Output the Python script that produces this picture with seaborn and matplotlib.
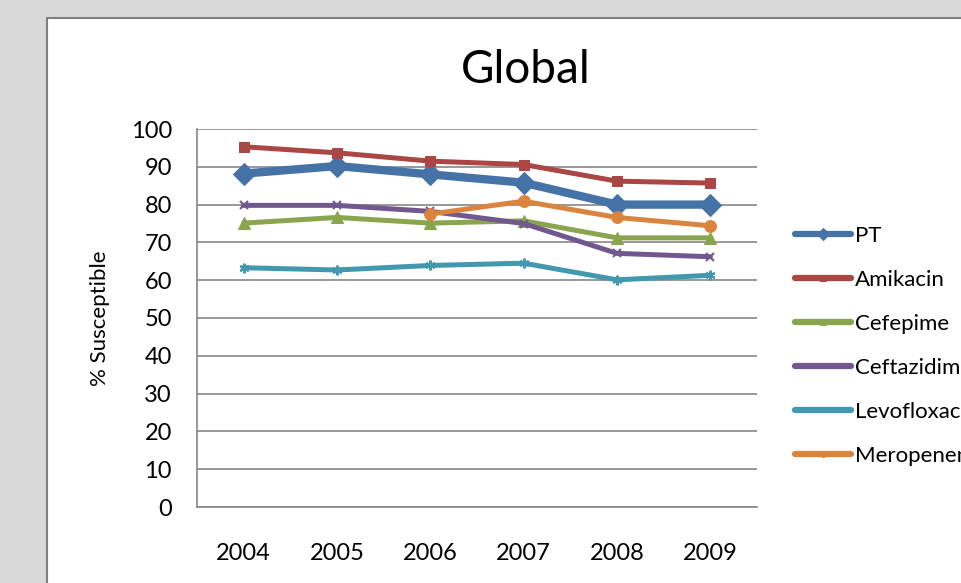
import numpy as np
import pandas as pd
import matplotlib
matplotlib.use('Agg')
import matplotlib.pyplot as plt
from matplotlib.patches import Rectangle
import seaborn as sns

years = ['2004', '2005', '2006', '2007', '2008', '2009']
pt = [88.2, 90.2, 88.0, 85.8, 80.0, 80.0]
amikacin = [95.3, 93.7, 91.5, 90.6, 86.2, 85.7]
cefepime = [75.1, 76.6, 75.1, 75.7, 71.2, 71.2]
ceftazidime = [79.8, 79.8, 78.2, 75.0, 67.1, 66.2]
levofloxacin = [63.3, 62.7, 63.9, 64.5, 60.1, 61.3]
meropenem = [np.nan, np.nan, 77.5, 80.9, 76.6, 74.4]

drugs = ['PT', 'Amikacin', 'Cefepime', 'Ceftazidime', 'Levofloxacin', 'Meropenem']
values = [pt, amikacin, cefepime, ceftazidime, levofloxacin, meropenem]

rows = []
for d, v in zip(drugs, values):
    for i, y in enumerate(v):
        rows.append({'drug': d, 'pos': i, 'pct': y})
df = pd.DataFrame(rows).dropna()

colors = ['#4572A7', '#AA4643', '#89A54E', '#71588F', '#4198AF', '#DB843D']
styles = {
    'PT': dict(marker='D', markersize=11.5, linewidth=6),
    'Amikacin': dict(marker='s', markersize=7.5, linewidth=3.6),
    'Cefepime': dict(marker='^', markersize=8.5, linewidth=3.6),
    'Ceftazidime': dict(marker='x', markersize=6, linewidth=3.6, markeredgewidth=1.5),
    'Levofloxacin': dict(marker=(6, 2, 0), markersize=7, linewidth=3.6, markeredgewidth=1.5),
    'Meropenem': dict(marker='o', markersize=8.5, linewidth=3.6),
}

sns.set_style('white')
plt.rcParams['font.family'] = ['Lato', 'DejaVu Sans']
plt.rcParams['text.color'] = 'black'
plt.rcParams['xtick.color'] = 'black'
plt.rcParams['ytick.color'] = 'black'

fig = plt.figure(figsize=(9.61, 5.83), dpi=100)
fig.patch.set_facecolor('#d9d9d9')
fig.patches.append(Rectangle((47 / 961, -0.1), 1.0, 1 - 18 / 583 + 0.1,
                             transform=fig.transFigure, facecolor='white',
                             edgecolor='#7f7f7f', linewidth=1.5, zorder=-5))

ax = fig.add_axes([197 / 961, 76 / 583, 560 / 961, 378 / 583])
ax.set_facecolor('none')

for d, c in zip(drugs, colors):
    st = styles[d]
    sns.lineplot(data=df[df['drug'] == d], x='pos', y='pct', color=c, ax=ax,
                 label=d, markeredgecolor=c, markerfacecolor=c, **st)

ax.set_xlim(-0.5, len(years) - 0.5)
ax.set_ylim(0, 100)
ax.set_yticks(range(0, 101, 10))
ax.set_xticks(range(len(years)))
ax.set_xticklabels(years)
ax.set_xlabel('')
ax.set_ylabel('')
ax.yaxis.grid(True, color='#868686', linewidth=1.2)
ax.set_axisbelow(True)
for s in ['top', 'right']:
    ax.spines[s].set_visible(False)
for s in ['left', 'bottom']:
    ax.spines[s].set_color('#868686')
    ax.spines[s].set_linewidth(1.2)
ax.tick_params(axis='y', length=0, pad=18, labelsize=17)
ax.tick_params(axis='x', length=0, pad=26, labelsize=17)

fig.text(526 / 961, 1 - 70 / 583, 'Global', ha='center', va='center', fontsize=33)
fig.text(100 / 961, 1 - 318 / 583, '% Susceptible', ha='center', va='center',
         rotation=90, fontsize=16)

handles, labels = ax.get_legend_handles_labels()
ax.get_legend().remove()
leg = fig.legend(handles, labels, loc='upper left', bbox_to_anchor=(795 / 961, 1 - 226 / 583),
                 frameon=False, fontsize=16, handlelength=2.5, handletextpad=0.2,
                 labelspacing=1.08, borderpad=0, borderaxespad=0, markerscale=0.5)
for h in leg.legend_handles:
    h.set_linewidth(4.5)

fig.savefig('out.png', dpi=100, facecolor=fig.get_facecolor())
